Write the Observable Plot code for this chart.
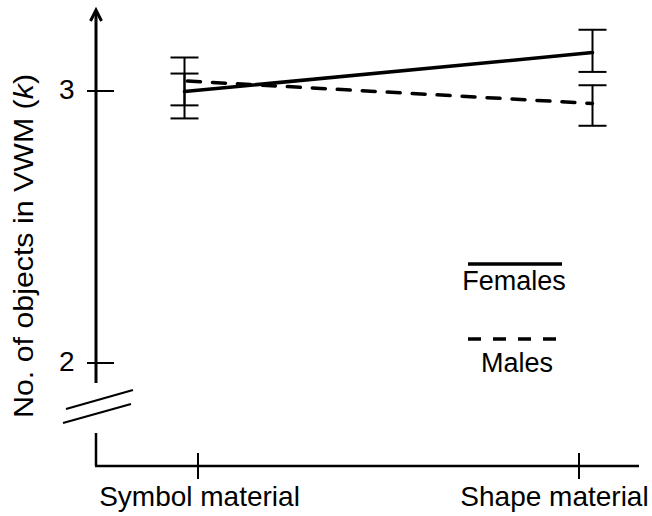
<!DOCTYPE html>
<html><head><meta charset="utf-8">
<script src="https://cdn.jsdelivr.net/npm/d3@7"></script>
<script src="https://cdn.jsdelivr.net/npm/@observablehq/plot@0.6"></script>
<style>body{margin:0;background:#fff} svg{display:block}</style>
</head><body><div id="chart"></div>
<script>
// ---- data ----
const conditions = ["Symbol material", "Shape material"];
const series = ["Females", "Males"];
const femalesMean = [3.000, 3.143];
const malesMean   = [3.039, 2.956];
const femalesLow  = [2.901, 3.072];
const femalesHigh = [3.066, 3.227];
const malesLow    = [2.949, 2.874];
const malesHigh   = [3.125, 3.023];
const yTicks = [2, 3];
const yLabelText = "No. of objects in VWM";
const yLabelUnit = "k";

// ---- table built from the arrays ----
const means = [femalesMean, malesMean], lows = [femalesLow, malesLow], highs = [femalesHigh, malesHigh];
const rows = [];
series.forEach((s, si) => conditions.forEach((c, ci) =>
  rows.push({sex: s, condition: c, mean: means[si][ci], low: lows[si][ci], high: highs[si][ci]})));

const FONT = "'Liberation Sans', Arial, Helvetica, sans-serif";
const dash = "13,12";
// horizontal-line symbol for error-bar caps
const capSymbol = {draw(ctx, size) { const h = Math.sqrt(size / Math.PI); ctx.moveTo(-h, 0); ctx.lineTo(h, 0); }};

// axis decorations, tick marks, labels and legend (layout in pixels)
function decorations(index, scales, values, dims) {
  const {width, height, marginLeft, marginTop, marginBottom, marginRight} = dims;
  const ax = marginLeft, top = marginTop, base = height - marginBottom, right = width - marginRight;
  const y2 = scales.y(yTicks[0]);
  const breakTop = y2 + 20, breakBottom = y2 + 70;
  const g = d3.create("svg:g");
  const s = g.append("g").attr("fill", "none").attr("stroke", "black");
  // y axis (with arrow) and break
  s.append("path").attr("d", `M${ax},${breakTop}V${top + 1}`).attr("stroke-width", 3);
  s.append("path").attr("d", `M${ax - 5.5},${top + 11}L${ax},${top}L${ax + 5.5},${top + 11}`).attr("stroke-width", 3).attr("stroke-linejoin", "miter");
  s.append("path").attr("d", `M${ax},${breakBottom}V${base}`).attr("stroke-width", 2.5);
  s.append("path").attr("d", `M${ax - 30},${y2 + 46}L${ax + 37},${y2 + 27}M${ax - 33},${y2 + 60}L${ax + 35},${y2 + 41}`).attr("stroke-width", 2.2);
  // x axis
  s.append("path").attr("d", `M${ax - 1},${base}H${right}`).attr("stroke-width", 2.5);
  // y ticks
  for (const t of yTicks) s.append("path").attr("d", `M${ax - 9},${scales.y(t)}H${ax + 18}`).attr("stroke-width", 2);
  // x ticks & labels
  const tickShift = {"Symbol material": 14, "Shape material": -13};
  const labelShift = {"Symbol material": 15.5, "Shape material": -37.5};
  for (const c of conditions) {
    const px = scales.x(c);
    s.append("path").attr("d", `M${px + tickShift[c]},${base - 13}V${base + 13}`).attr("stroke-width", 2);
    g.append("text").attr("x", px + labelShift[c]).attr("y", base + 40).attr("text-anchor", "middle")
      .attr("font-size", 28).attr("fill", "black").text(c);
  }
  // y label
  const yl = g.append("text").attr("transform", `translate(${ax - 63},${(top + base) / 2 + 8}) rotate(-90)`)
    .attr("text-anchor", "middle").attr("font-size", 28).attr("fill", "black")
    .attr("textLength", 344).attr("lengthAdjust", "spacingAndGlyphs");
  yl.append("tspan").text(yLabelText + " (");
  yl.append("tspan").attr("font-style", "italic").text(yLabelUnit);
  yl.append("tspan").text(")");
  // legend
  const lx = right - 171, lw = 94;
  const leg = [{name: series[0], ly: top + 254, ty: top + 280, dashed: false, w: lw},
               {name: series[1], ly: top + 329, ty: top + 362, dashed: true, w: lw - 5}];
  for (const L of leg) {
    s.append("path").attr("d", `M${lx},${L.ly}h${L.w}`).attr("stroke-width", 3.5)
      .attr("stroke-dasharray", L.dashed ? dash : null);
    g.append("text").attr("x", lx + 46 + (L.dashed ? 3 : 0)).attr("y", L.ty).attr("text-anchor", "middle")
      .attr("font-size", 27).attr("fill", "black").text(L.name);
  }
  return g.node();
}

const chart = Plot.plot({
  width: 652, height: 516,
  marginLeft: 96, marginRight: 13, marginTop: 10, marginBottom: 50,
  style: {fontFamily: FONT, fontSize: "28px", background: "white", color: "black"},
  x: {type: "point", domain: conditions, range: [184, 592], padding: 0, axis: null},
  y: {domain: [2, 3], range: [363, 91], axis: null},
  marks: [
    Plot.ruleX(rows, {x: "condition", y1: "low", y2: "high", stroke: "black", strokeWidth: 2}),
    Plot.dot(rows, {x: "condition", y: "low", symbol: capSymbol, r: 14, fill: "none", stroke: "black", strokeWidth: 2}),
    Plot.dot(rows, {x: "condition", y: "high", symbol: capSymbol, r: 14, fill: "none", stroke: "black", strokeWidth: 2}),
    Plot.line(rows.filter(d => d.sex === series[0]), {x: "condition", y: "mean", stroke: "black", strokeWidth: 3.5}),
    Plot.line(rows.filter(d => d.sex === series[1]), {x: "condition", y: "mean", stroke: "black", strokeWidth: 3.5, strokeDasharray: dash, strokeDashoffset: -3}),
    Plot.text(yTicks, {y: d => d, text: d => String(d), frameAnchor: "left", dx: -22, dy: -1, textAnchor: "end", fontSize: 28, fill: "black"}),
    decorations
  ]
});
document.getElementById("chart").append(chart);
</script>
</body></html>
